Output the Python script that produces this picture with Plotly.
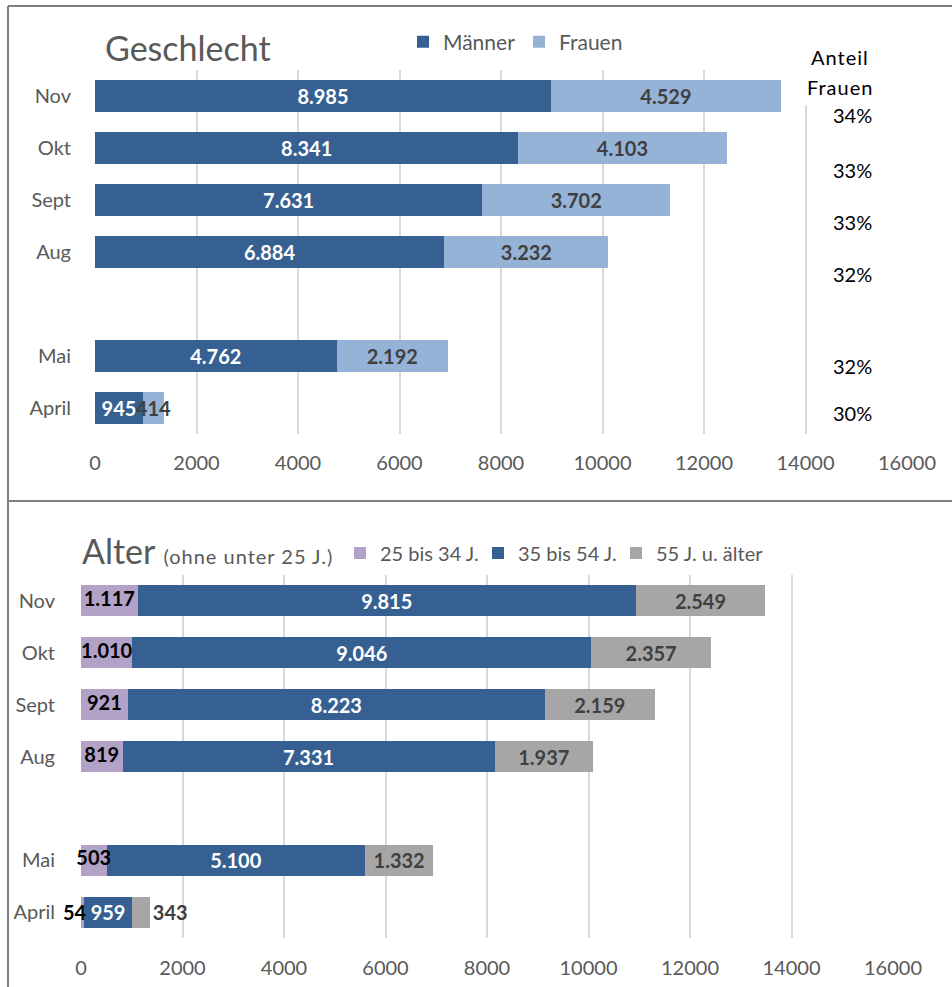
import plotly.graph_objects as go
from plotly.subplots import make_subplots

# data
months = ["Nov", "Okt", "Sept", "Aug", "Mai", "April"]
maenner = [8985, 8341, 7631, 6884, 4762, 945]
frauen = [4529, 4103, 3702, 3232, 2192, 414]
alter_25_34 = [1117, 1010, 921, 819, 503, 54]
alter_35_54 = [9815, 9046, 8223, 7331, 5100, 959]
alter_55 = [2549, 2357, 2159, 1937, 1332, 343]
x_ticks = [0, 2000, 4000, 6000, 8000, 10000, 12000, 14000, 16000]

# row order incl. the empty gap row between Aug and Mai
row_order = ["April", "Mai", " ", "Aug", "Sept", "Okt", "Nov"]

W, H = 952, 987
FONT = "Lato"
DARK = "#376092"
LIGHT = "#95B3D7"
LILA = "#B3A2C7"
GREY = "#A6A6A6"
TXT = "#595959"


def de(v):
    return f"{v:,}".replace(",", ".")


fig = make_subplots(rows=2, cols=1)

def bar(x, name, color, tcolor, row, legend, tpos="inside", show_text=True):
    fig.add_trace(go.Bar(
        y=months, x=x, name=name, orientation="h", marker_color=color,
        marker_line_width=0,
        texttemplate="%{x:,}" if show_text else None, textposition=tpos,
        insidetextanchor="middle", constraintext="none", textangle=0,
        textfont=dict(family=FONT, size=20, color=tcolor, weight="bold"),
        cliponaxis=False, legend=legend, hoverinfo="x+name",
    ), row=row, col=1)

bar(maenner, "Männer", DARK, "white", 1, "legend")
bar(frauen, "Frauen", LIGHT, "#404040", 1, "legend")
bar(alter_25_34, "25 bis 34 J.", LILA, "black", 2, "legend2", tpos="none",
    show_text=False)
bar(alter_35_54, "35 bis 54 J.", DARK, "white", 2, "legend2")
bar(alter_55, "55 J. u. älter", GREY, "#404040", 2, "legend3",
    tpos=["inside"] * (len(months) - 1) + ["outside"])

# labels of the thin 25-34 segment drawn on top of the stack
fig.add_trace(go.Scatter(
    y=months[:-1], x=[v / 2 for v in alter_25_34[:-1]], mode="text",
    text=[de(v) for v in alter_25_34[:-1]], textposition="middle center",
    textfont=dict(family=FONT, size=20, color="black", weight="bold"),
    showlegend=False, hoverinfo="skip", cliponaxis=False,
), row=2, col=1)
# April value sits left of its tiny bar
fig.add_annotation(text=f"<b>{de(alter_25_34[-1])}</b>", xref="x2", yref="y2",
                   x=alter_25_34[-1], y=months[-1], xanchor="right",
                   xshift=5, yanchor="middle", showarrow=False,
                   font=dict(family=FONT, size=20, color="black"))

def px_x(p):
    return p / W

def px_y(p):
    return 1 - p / H

axis_common = dict(range=[0, 16000], tickvals=x_ticks, tickformat="d",
                   showgrid=True, gridcolor="#D9D9D9", gridwidth=2,
                   zeroline=False, showline=False, ticks="", automargin=False,
                   tickfont=dict(family=FONT, size=20, color=TXT))
yaxis_common = dict(type="category", categoryorder="array",
                    categoryarray=row_order, range=[-0.5, 6.5],
                    showgrid=False, zeroline=False, showline=False, ticks="",
                    automargin=False,
                    tickfont=dict(family=FONT, size=20, color=TXT))

legend_common = dict(orientation="h", xanchor="left", yanchor="middle",
                     traceorder="normal", entrywidthmode="pixels")

fig.update_layout(
    width=W, height=H, autosize=False,
    margin=dict(l=0, r=0, t=0, b=0, pad=0, autoexpand=False),
    paper_bgcolor="white", plot_bgcolor="white",
    barmode="stack", bargap=0.4, separators=",.",
    font=dict(family=FONT, color=TXT),
    xaxis=dict(domain=[px_x(95), px_x(907)], anchor="y",
               ticklabelstandoff=15, **axis_common),
    yaxis=dict(domain=[px_y(434), px_y(70)], anchor="x",
               ticklabelstandoff=23, **yaxis_common),
    xaxis2=dict(domain=[px_x(81), px_x(893)], anchor="y2",
                ticklabelstandoff=16, **axis_common),
    yaxis2=dict(domain=[px_y(938), px_y(575)], anchor="x2",
                ticklabelstandoff=25, **yaxis_common),
    legend=dict(x=px_x(403), y=px_y(42), entrywidth=71,
                font=dict(family=FONT, size=21, color=TXT), **legend_common),
    legend2=dict(x=px_x(340), y=px_y(553), entrywidth=93,
                 font=dict(family=FONT, size=20, color=TXT), **legend_common),
    legend3=dict(x=px_x(616), y=px_y(553), entrywidth=120,
                 font=dict(family=FONT, size=20, color=TXT), **legend_common),
)

# titles
fig.add_annotation(text="Geschlecht", xref="paper", yref="paper",
                   x=px_x(103), y=px_y(47), xanchor="left", yanchor="middle",
                   showarrow=False, font=dict(family=FONT, size=34, color=TXT))
fig.add_annotation(
    text="Alter <span style='font-size:20px;letter-spacing:1px'>(ohne unter 25 J.)</span>",
    xref="paper", yref="paper", x=px_x(80), y=px_y(550),
    xanchor="left", yanchor="middle", showarrow=False,
    font=dict(family=FONT, size=34, color=TXT))

# Anteil Frauen column
fig.add_annotation(text="<span style='letter-spacing:1px'>Anteil</span>",
                   xref="paper", yref="paper",
                   x=px_x(840), y=px_y(57), xanchor="center", yanchor="middle",
                   showarrow=False, bgcolor="white",
                   font=dict(family=FONT, size=20, color="black"))
fig.add_annotation(text="<span style='letter-spacing:1px'>Frauen</span>",
                   xref="paper", yref="paper",
                   x=px_x(840), y=px_y(87), xanchor="center", yanchor="middle",
                   showarrow=False, bgcolor="white", borderpad=6,
                   font=dict(family=FONT, size=20, color="black"))
pct_shift = [-19, -22, -22, -22, -10, -5]
for m, mv, fv, sh in zip(months, maenner, frauen, pct_shift):
    fig.add_annotation(text=f"{round(100 * fv / (mv + fv))}%",
                       xref="paper", yref="y", x=px_x(852), y=m, yshift=sh,
                       xanchor="center", yanchor="middle", showarrow=False,
                       font=dict(family=FONT, size=20, color="black"))

# frame lines
line = dict(color="#7F7F7F", width=2)
fig.add_shape(type="line", xref="paper", yref="paper",
              x0=px_x(8), x1=1, y0=px_y(6), y1=px_y(6), line=line)
fig.add_shape(type="line", xref="paper", yref="paper",
              x0=px_x(8), x1=1, y0=px_y(501), y1=px_y(501), line=line)
fig.add_shape(type="line", xref="paper", yref="paper",
              x0=px_x(8), x1=px_x(8), y0=0, y1=px_y(6), line=line)

fig.write_html("out.html",
               config={"responsive": False, "displayModeBar": False},
               post_script="document.body.style.margin='0';"
                           "document.body.style.overflow='hidden';")
